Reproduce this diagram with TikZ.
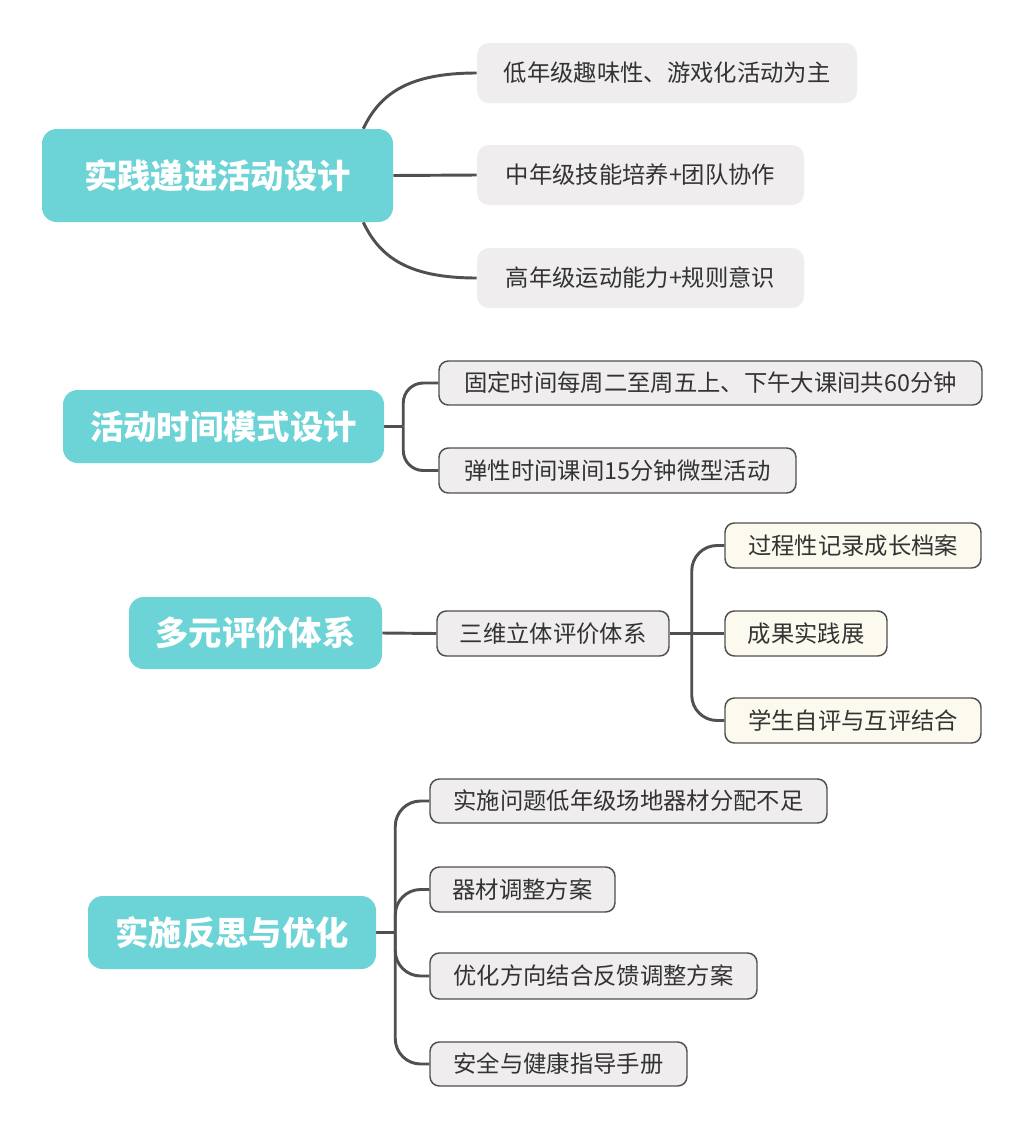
\documentclass[tikz,border=0pt]{standalone}
\usepackage{fontspec}
\setmainfont{Noto Sans CJK SC}
\usetikzlibrary{calc,backgrounds}
\definecolor{tealmain}{HTML}{6CD3D6}
\definecolor{grayfill}{HTML}{EFEDED}
\definecolor{creamfill}{HTML}{FCFAEE}
\definecolor{edgegray}{HTML}{505050}
\definecolor{txt}{HTML}{333333}
\begin{document}
\begin{tikzpicture}[x=0.75pt,y=-0.75pt,
  sz/.style 2 args={minimum width=#1*0.75pt, minimum height=#2*0.75pt},
  mainbox/.style={fill=tealmain, rounded corners=11pt, inner sep=0pt, text=white,
    font=\fontsize{25}{30}\selectfont\bfseries},
  plainbox/.style={fill=grayfill, rounded corners=9pt, inner sep=0pt, text=txt,
    font=\fontsize{17.5}{21}\selectfont},
  edgebox/.style={fill=grayfill, draw=edgegray, line width=1.1pt, rounded corners=7pt,
    inner sep=0pt, text=txt, font=\fontsize{17.5}{21}\selectfont},
  creambox/.style={edgebox, fill=creamfill},
  link/.style={draw=edgegray, line width=2.2pt},
]
\useasboundingbox (0,0) rectangle (1024,1128);

% Group 1
\node[mainbox, sz={351}{93}] (m1) at (217.5,175.5) {实践递进活动设计};
\node[plainbox, sz={380}{60}] (a1) at (667,73) {低年级趣味性、游戏化活动为主};
\node[plainbox, sz={327}{60}] (a2) at (640.5,175) {中年级技能培养+团队协作};
\node[plainbox, sz={327}{60}] (a3) at (640.5,278) {高年级运动能力+规则意识};

% Group 2
\node[mainbox, sz={321}{73}] (m2) at (223.5,426.5) {活动时间模式设计};
\node[edgebox, sz={543}{44}] (b1) at (710.5,383) {固定时间每周二至周五上、下午大课间共60分钟};
\node[edgebox, sz={357}{45}] (b2) at (617.5,470.5) {弹性时间课间15分钟微型活动};

% Group 3
\node[mainbox, sz={253}{72}] (m3) at (255.5,633) {多元评价体系};
\node[edgebox, sz={232}{45}] (c0) at (553,633.5) {三维立体评价体系};
\node[creambox, sz={256}{45}] (d1) at (853,545.5) {过程性记录成长档案};
\node[creambox, sz={162}{45}] (d2) at (806,633.5) {成果实践展};
\node[creambox, sz={256}{45}] (d3) at (853,720.5) {学生自评与互评结合};

% Group 4
\node[mainbox, sz={288}{73}] (m4) at (232,932.5) {实施反思与优化};
\node[edgebox, sz={397}{44}] (e1) at (628.5,801) {实施问题低年级场地器材分配不足};
\node[edgebox, sz={185}{45}] (e2) at (522.5,889.5) {器材调整方案};
\node[edgebox, sz={327}{46}] (e3) at (593.5,976) {优化方向结合反馈调整方案};
\node[edgebox, sz={257}{44}] (e4) at (558.5,1064) {安全与健康指导手册};

\begin{scope}[on background layer]
  \fill[white] (0,0) rectangle (1024,1128);
  % Group 1 links
  \coordinate (m1t) at ($(m1.north east)+(-30,0)$);
  \coordinate (m1b) at ($(m1.south east)+(-30,0)$);
  \draw[link] (m1t) .. controls +(17,-36) and +(-67,0) .. (a1.west);
  \draw[link] (m1.east) -- (a2.west);
  \draw[link] (m1b) .. controls +(17,36) and +(-67,0) .. (a3.west);
  % Group 2 links
  \coordinate (j2) at ($(m2.east)+(19,0)$);
  \draw[link] (m2.east) -- (j2);
  \draw[link, rounded corners=15pt] (b1.west) -| (j2);
  \draw[link, rounded corners=15pt] (b2.west) -| (j2);
  % Group 3 links
  \draw[link] (m3.east) -- (c0.west);
  \coordinate (j3) at ($(c0.east)+(22,0)$);
  \draw[link] (c0.east) -- (d2.west);
  \draw[link, rounded corners=19pt] (d1.west) -| (j3);
  \draw[link, rounded corners=19pt] (d3.west) -| (j3);
  % Group 4 links
  \coordinate (j4) at ($(m4.east)+(19,0)$);
  \draw[link] (m4.east) -- (j4);
  \draw[link, rounded corners=19pt] (e1.west) -| (j4);
  \draw[link, rounded corners=19pt] (e2.west) -| (j4);
  \draw[link, rounded corners=19pt] (e3.west) -| (j4);
  \draw[link, rounded corners=19pt] (e4.west) -| (j4);
\end{scope}
\end{tikzpicture}
\end{document}
